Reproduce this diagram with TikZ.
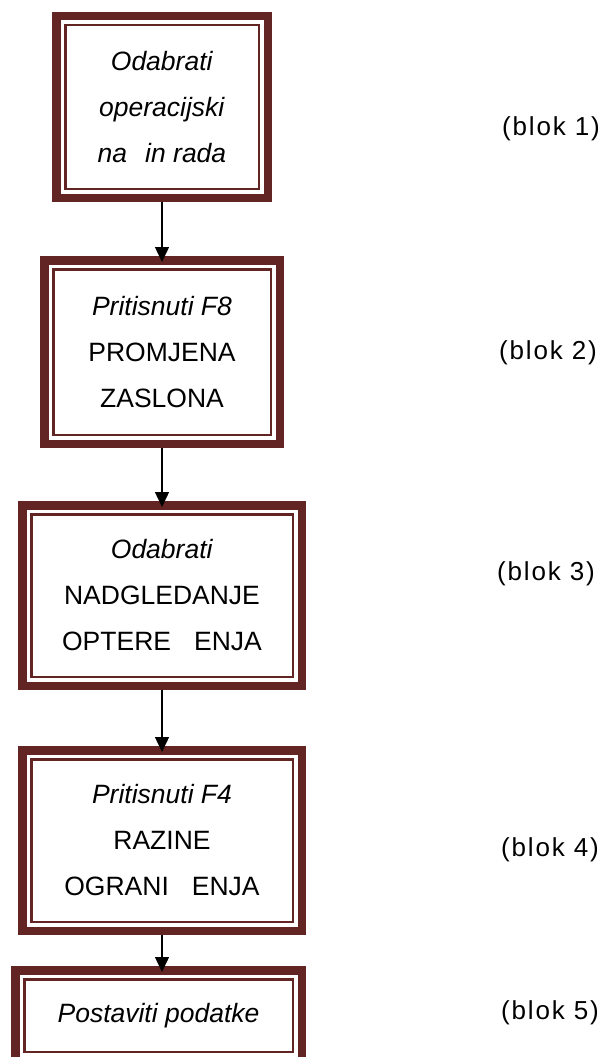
\documentclass[tikz,border=0pt]{standalone}
\usepackage{fontspec}
\setmainfont{Liberation Sans}
\usetikzlibrary{arrows.meta}
\definecolor{okvir}{HTML}{632523}
\tikzset{
  blok/.style={draw=okvir,line width=8.5pt,fill=white,inner sep=0pt,align=center,
               font=\fontsize{26.5pt}{46pt}\selectfont},
  oznaka/.style={font=\fontsize{26pt}{30pt}\selectfont\addfontfeature{LetterSpace=7}},
  strelica/.style={line width=1.4pt,-{Triangle[width=14pt,length=15pt]},shorten >=-6pt}
}
\begin{document}
\begin{tikzpicture}[x=1pt,y=-1pt]
                                    \def\dr{13.25pt};
                                    \useasboundingbox (0,0) rectangle (609,1057);
% blokovi
                                    \node[blok,minimum width=211.5pt,minimum height=181.5pt] (b1) at (162,107)
                                        {\textit{Odabrati}\\\textit{operacijski}\\\textit{na\hspace{0.68em}in rada}};
                                    \node[blok,minimum width=235.5pt,minimum height=183.5pt] (b2) at (162,352)
                                        {\textit{Pritisnuti F8}\\PROMJENA\\ZASLONA};
                                    \node[blok,minimum width=279.5pt,minimum height=180.5pt] (b3) at (162,595.5)
                                        {\textit{Odabrati}\\NADGLEDANJE\\OPTERE\hspace{0.87em}ENJA};
                                    \node[blok,minimum width=279.5pt,minimum height=180.5pt] (b4) at (162,840.5)
                                        {\textit{Pritisnuti F4}\\RAZINE\\OGRANI\hspace{0.87em}ENJA};
                                    \node[blok,minimum width=286.5pt,minimum height=90.5pt] (b5) at (158.5,1015.5)
                                        {\textit{Postaviti podatke}};
                                    \foreach \i in {1,...,5}
                                        \draw[okvir,line width=2.5pt] ([shift={(\dr,-\dr)}]b\i.north west) rectangle ([shift={(-\dr,\dr)}]b\i.south east);

% oznake
                                    \node[oznaka] (o1) at (551,129) {(blok 1)};
                                    \node[oznaka] (o2) at (548,353) {(blok 2)};
                                    \node[oznaka] (o3) at (546,574) {(blok 3)};
                                    \node[oznaka] (o4) at (550,850) {(blok 4)};
                                    \node[oznaka] (o5) at (550,1013) {(blok 5)};

% strelice
                                    \draw[strelica] (b1.south) -- (b2.north);
                                    \draw[strelica] (b2.south) -- (b3.north);
                                    \draw[strelica] (b3.south) -- (b4.north);
                                    \draw[strelica] (b4.south) -- (b4.south |- b5.north);

                                \end{tikzpicture}
\end{document}
